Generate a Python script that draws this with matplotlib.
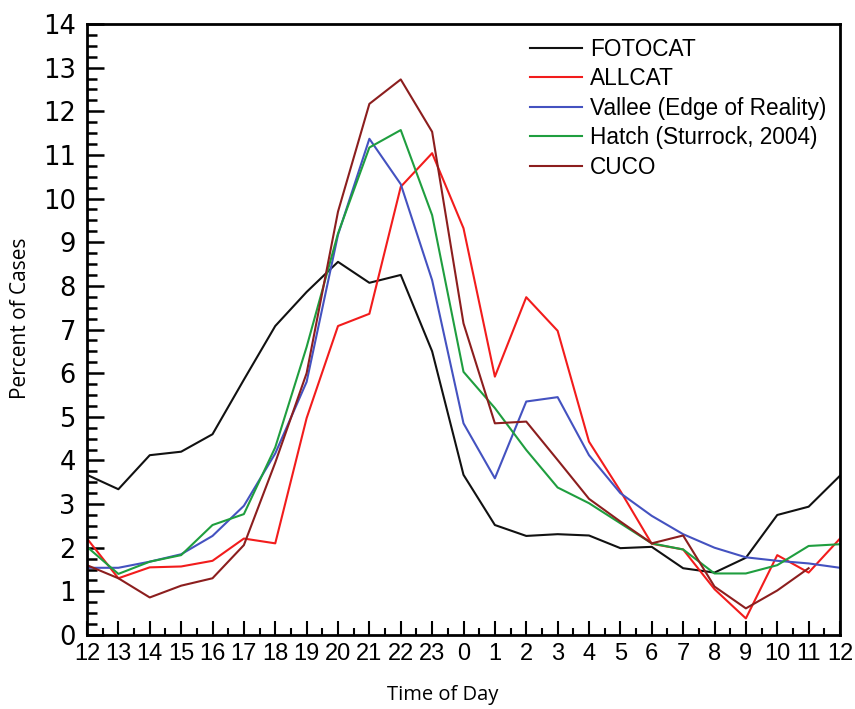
import matplotlib
matplotlib.use("Agg")
import matplotlib.pyplot as plt
from matplotlib.ticker import MultipleLocator

hour_labels = ["12", "13", "14", "15", "16", "17", "18", "19", "20", "21", "22", "23",
               "0", "1", "2", "3", "4", "5", "6", "7", "8", "9", "10", "11", "12"]

fotocat = [3.67, 3.34, 4.12, 4.20, 4.60, 5.85, 7.08, 7.86, 8.55, 8.07, 8.25, 6.50,
           3.67, 2.52, 2.27, 2.31, 2.28, 1.99, 2.02, 1.53, 1.43, 1.77, 2.75, 2.94, 3.65]
allcat = [2.21, 1.30, 1.55, 1.57, 1.70, 2.21, 2.10, 4.97, 7.08, 7.36, 10.27, 11.04,
          9.32, 5.92, 7.74, 6.97, 4.43, 3.30, 2.09, 1.96, 1.05, 0.38, 1.83, 1.43, 2.21]
vallee = [1.54, 1.54, 1.68, 1.85, 2.27, 2.96, 4.16, 5.80, 9.17, 11.37, 10.33, 8.13,
          4.85, 3.59, 5.35, 5.45, 4.12, 3.25, 2.73, 2.31, 2.00, 1.78, 1.70, 1.64, 1.54]
hatch = [2.02, 1.40, 1.68, 1.83, 2.52, 2.77, 4.30, 6.60, 9.20, 11.17, 11.57, 9.62,
         6.03, 5.20, 4.24, 3.38, 3.02, 2.56, 2.10, 1.96, 1.41, 1.41, 1.60, 2.04, 2.08]
cuco = [1.60, 1.30, 0.86, 1.13, 1.30, 2.06, 3.95, 6.00, 9.70, 12.17, 12.73, 11.53,
        7.14, 4.85, 4.89, 4.01, 3.12, 2.60, 2.10, 2.28, 1.11, 0.61, 1.02, 1.53]

series_names = ["FOTOCAT", "ALLCAT", "Vallee (Edge of Reality)", "Hatch (Sturrock, 2004)", "CUCO"]
series_values = [fotocat, allcat, vallee, hatch, cuco]
series_colors = ["#111111", "#f21c1c", "#4452c0", "#1f9e3f", "#8c1e1e"]

W, H = 855, 709
fig = plt.figure(figsize=(W / 100, H / 100), dpi=100)
ax = fig.add_axes([87 / W, 1 - 635 / H, (840 - 87) / W, (635 - 24) / H])

for name, vals, col in zip(series_names, series_values, series_colors):
    ax.plot(range(len(vals)), vals, color=col, lw=1.5, label=name)

ax.set_xlim(0, 24)
ax.set_ylim(0, 14)
ax.set_xticks(range(len(hour_labels)))
ax.set_xticklabels(hour_labels)
ax.xaxis.set_minor_locator(MultipleLocator(0.5))
ax.yaxis.set_major_locator(MultipleLocator(1))
ax.yaxis.set_minor_locator(MultipleLocator(0.25))

tick_font = "Liberation Sans"
for lab in ax.get_xticklabels():
    lab.set_fontfamily(tick_font)
    lab.set_fontsize(17)
for lab in ax.get_yticklabels():
    lab.set_fontfamily("DejaVu Sans")
    lab.set_fontsize(18.5)

ax.tick_params(axis="both", which="both", direction="in", top=False, right=False, color="black")
ax.tick_params(axis="y", which="major", length=12, width=1.8, pad=8)
ax.tick_params(axis="y", which="minor", length=7, width=1.8)
ax.tick_params(axis="x", which="major", length=10, width=1.5, pad=6)
ax.tick_params(axis="x", which="minor", length=5, width=1.5)

for sp in ax.spines.values():
    sp.set_linewidth(2)
    sp.set_color("black")

fig.text(443 / W, 1 - 695 / H, "Time of Day", fontfamily="Open Sans", fontsize=14.5,
         ha="center", va="center")
fig.text(21 / W, 1 - 318 / H, "Percent of Cases", fontfamily="Open Sans", fontsize=15,
         ha="center", va="center", rotation=90)

leg = ax.legend(loc="upper right", frameon=False, prop={"family": tick_font, "size": 16.3},
                handlelength=2.3, handletextpad=0.35, labelspacing=0.29,
                bbox_to_anchor=(1.0, 1.0), borderaxespad=0.2)
for h in leg.get_lines():
    h.set_linewidth(1.5)

fig.savefig("out.png", dpi=100)
